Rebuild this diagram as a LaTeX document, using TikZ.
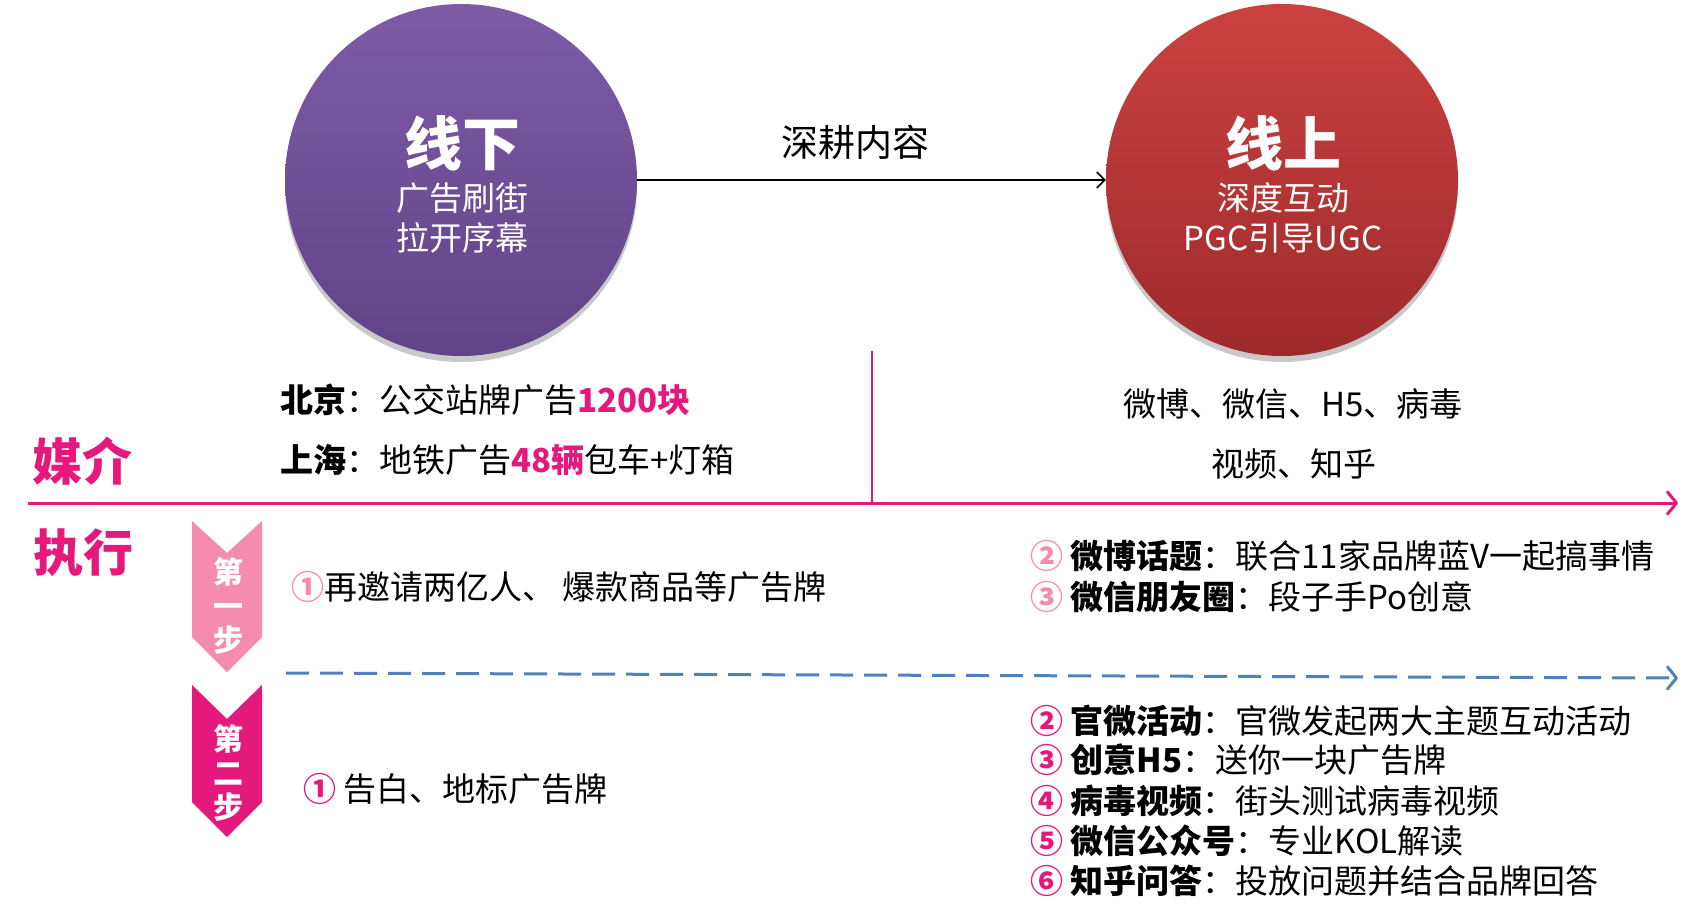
\documentclass[tikz,border=0pt]{standalone}
\usepackage{fontspec}
\setmainfont{Noto Sans CJK SC}
\usetikzlibrary{arrows.meta,shadows}

\definecolor{mag}{HTML}{E5197B}
\definecolor{pinkL}{HTML}{F58BAF}
\definecolor{dashblue}{HTML}{4F81BD}
\definecolor{offTop}{HTML}{7D5BA8}
\definecolor{offBot}{HTML}{5F4486}
\definecolor{onTop}{HTML}{CB4141}
\definecolor{onBot}{HTML}{9E2A2C}

\newcommand{\fsz}[2][1.2]{\fontsize{#2}{#1\dimexpr #2pt\relax}\selectfont}
\newcommand{\numL}[1]{\textcolor{pinkL}{\textbf{#1}}}
\newcommand{\numD}[1]{\textcolor{mag}{\textbf{#1}}}

\tikzset{
  ball/.style={circle,minimum size=352pt,inner sep=0pt,
    drop shadow={shadow xshift=0pt,shadow yshift=-6pt,opacity=.3,fill=black!70}},
  txt/.style={inner sep=0pt,font=\fsz{33}},
  item/.style={txt,anchor=west},
  stepbox/.style={white,inner sep=0pt,align=center,font=\fontsize{30}{34}\selectfont\bfseries},
}

\begin{document}
\begin{tikzpicture}[x=1pt,y=-1pt]
  \useasboundingbox (0,0) rectangle (1705,909);

  % the two circles
  \node[ball,top color=offTop,bottom color=offBot] (off) at (461,180) {};
  \node[ball,top color=onTop,bottom color=onBot] (on) at (1282,180) {};
  \node[white,inner sep=0pt,font=\fsz{58}\bfseries] (offT) at (462,143) {线下};
  \node[white,txt] (offA) at (462,198) {广告刷街};
  \node[white,txt] (offB) at (462,238) {拉开序幕};
  \node[white,inner sep=0pt,font=\fsz{58}\bfseries] (onT) at (1283,143) {线上};
  \node[white,txt] (onA) at (1283,198) {深度互动};
  \node[white,txt] (onB) at (1283,238) {PGC引导UGC};

  \draw[line width=1.5pt,-{Straight Barb[length=8pt,width=16pt]}] (off) -- (on);
  \node[inner sep=0pt,font=\fsz{37}] (deep) at (855,142) {深耕内容};

  % media row
  \coordinate (axL) at (28,503);
  \coordinate (axR) at (1678,503);
  \coordinate (sepT) at (872,351);
  \coordinate (sepB) at (872,503);
  \draw[mag,line width=2.5pt] (sepT) -- (sepB);
  \draw[mag,line width=3pt,-{Straight Barb[length=9pt,width=22pt,line cap=round,line join=round]}] (axL) -- (axR);

  \node[mag,inner sep=0pt,font=\fsz{50}\bfseries] (media) at (82,461) {媒介};
  \node[mag,inner sep=0pt,font=\fsz{50}\bfseries] (exec) at (83,553) {执行};

  \node[item] (bj) at (280,400) {\textbf{北京}：公交站牌广告\textcolor{mag}{\textbf{1200块}}};
  \node[item] (sh) at (280,460) {\textbf{上海}：地铁广告\textcolor{mag}{\textbf{48辆}}包车+灯箱};
  \node[txt] (web1) at (1293,404) {微博、微信、H5、病毒};
  \node[txt] (web2) at (1294,464) {视频、知乎};

  % steps
  \fill[pinkL] (192,521) -- (227,553) -- (262,521) -- (262,637) -- (227,672) -- (192,637) -- cycle;
  \fill[mag] (192,685) -- (227,719) -- (262,685) -- (262,802) -- (227,837) -- (192,802) -- cycle;
  \node[stepbox] (st1) at (228,606) {第\\一\\步};
  \node[stepbox] (st2) at (228,773) {第\\二\\步};

  \coordinate (dashL) at (286,673);
  \coordinate (dashR) at (1678,678);
  \draw[dashblue,line width=3pt,dash pattern=on 23pt off 11pt,
    -{Straight Barb[length=9pt,width=22pt,line cap=round,line join=round]}] (dashL) -- (dashR);

  \node[item] (a1) at (291,587) {\numL{①}再邀请两亿人、 爆款商品等广告牌};
  \node[item] (b1) at (303,789) {\numD{①} 告白、地标广告牌};

  \node[item] (a2) at (1030,556) {\numL{②} \textbf{微博话题}：联合11家品牌蓝V一起搞事情};
  \node[item] (a3) at (1030,597) {\numL{③} \textbf{微信朋友圈}：段子手Po创意};

  \node[item] (b2) at (1030,721) {\numD{②} \textbf{官微活动}：官微发起两大主题互动活动};
  \node[item] (b3) at (1030,760) {\numD{③} \textbf{创意H5}：送你一块广告牌};
  \node[item] (b4) at (1030,801) {\numD{④} \textbf{病毒视频}：街头测试病毒视频};
  \node[item] (b5) at (1030,841) {\numD{⑤} \textbf{微信公众号}：专业KOL解读};
  \node[item] (b6) at (1030,881) {\numD{⑥} \textbf{知乎问答}：投放问题并结合品牌回答};
\end{tikzpicture}
\end{document}
